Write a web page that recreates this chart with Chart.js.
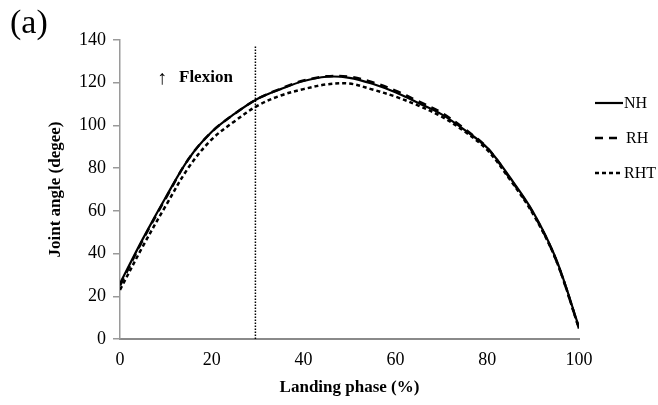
<!DOCTYPE html>
<html>
<head>
    <meta charset="UTF-8">
    <title>Joint angle</title>
    <style type="text/css">
        body {
            background-color: white;
            margin: 0;
            padding: 0;
        }

        #chartContainer {
            width: 658px;
            height: 405px;
        }
    </style>

    <script src="https://cdn.jsdelivr.net/npm/chart.js@4.4.0/dist/chart.umd.min.js"></script>
</head>
<body>
    <div id="chartContainer">
        <canvas id="angleChart" width="658" height="405"></canvas>
    </div>

    <script type="text/javascript">
    // landing phase (%) and knee joint angle (deg) per condition
    var phase = [0, 5, 10, 15, 20, 25, 30, 35, 40, 45, 50, 55, 60, 65, 70, 75, 80, 85, 90, 95, 100];
    var nh  = [26, 47, 66.5, 84.5, 97, 105.5, 112.5, 117, 120.8, 122.8, 122.3, 119.5, 115.5, 110.5, 105.3, 98, 89.5, 75.5, 59.5, 37.5, 5.5];
    var rh  = [25, 46.5, 66, 84.5, 97, 105.5, 112.5, 117.2, 121, 123, 122.8, 120.2, 116.3, 111.3, 106, 98.5, 89.5, 75, 59, 37, 5];
    var rht = [23, 43.5, 62.5, 80.5, 93.5, 102, 109.3, 114, 117, 119.2, 119.6, 116.8, 113.5, 109.3, 104.2, 97.3, 88.5, 74.5, 58.5, 37, 5];

    var seriesNames = ['NH', 'RH', 'RHT'];
    var xTicks = [0, 20, 40, 60, 80, 100];
    var yTicks = [0, 20, 40, 60, 80, 100, 120, 140];

    // vertical marker line
    var markerPhase = 29.5;
    var markerTop = 137;

    var serif = "'Liberation Serif', 'Times New Roman', serif";

    function toPoints(values) {
        var pts = [];
        for (var i = 0; i < phase.length; i++) {
            pts.push({ x: phase[i], y: values[i] });
        }
        return pts;
    }

    // legend and text annotations drawn on top
    var annotations = {
        id: 'annotations',
        afterDraw: function (chart) {
            var ctx = chart.ctx;
            ctx.save();
            ctx.fillStyle = '#000';

            ctx.font = '34px ' + serif;
            ctx.textBaseline = 'alphabetic';
            ctx.textAlign = 'left';
            ctx.fillText('(a)', 10, 33);

            ctx.textBaseline = 'middle';
            ctx.font = '20px ' + serif;
            ctx.fillText('\u2191', 157, 79);
            ctx.font = 'bold 17px ' + serif;
            ctx.fillText('Flexion', 179, 78);

            // legend
            var rows = [103, 138, 173];
            ctx.font = '16px ' + serif;
            for (var i = 0; i < 3; i++) {
                var ds = chart.data.datasets[i];
                ctx.beginPath();
                ctx.setLineDash(ds.borderDash || []);
                ctx.lineWidth = ds.borderWidth;
                ctx.strokeStyle = '#000';
                ctx.moveTo(595, rows[i]);
                ctx.lineTo(623, rows[i]);
                ctx.stroke();
                ctx.setLineDash([]);
                ctx.fillText(seriesNames[i], i === 1 ? 626 : 624, rows[i] + 1);
            }
            ctx.restore();
        }
    };

    var ctx = document.getElementById('angleChart').getContext('2d');
    var angleChart = new Chart(ctx, {
        type: 'line',
        data: {
            datasets: [{
                label: seriesNames[0],
                data: toPoints(nh),
                borderColor: '#000',
                borderWidth: 2.2,
                pointRadius: 0,
                tension: 0.35,
                fill: false
            }, {
                label: seriesNames[1],
                data: toPoints(rh),
                borderColor: '#000',
                borderWidth: 2.5,
                borderDash: [8, 6],
                pointRadius: 0,
                tension: 0.35,
                fill: false
            }, {
                label: seriesNames[2],
                data: toPoints(rht),
                borderColor: '#000',
                borderWidth: 2.5,
                borderDash: [4, 3],
                pointRadius: 0,
                tension: 0.35,
                fill: false
            }, {
                label: 'marker',
                data: [{ x: markerPhase, y: 0 }, { x: markerPhase, y: markerTop }],
                borderColor: '#000',
                borderWidth: 1.5,
                borderDash: [1.5, 1.5],
                pointRadius: 0,
                fill: false
            }]
        },
        options: {
            responsive: false,
            animation: false,
            events: [],
            layout: {
                padding: { left: 0, top: 40, right: 79, bottom: 0 }
            },
            scales: {
                x: {
                    type: 'linear',
                    min: 0,
                    max: 100,
                    afterBuildTicks: function (scale) {
                        scale.ticks = xTicks.map(function (v) { return { value: v }; });
                    },
                    afterFit: function (scale) { scale.height = 66; },
                    grid: { display: false, drawTicks: false },
                    border: { display: true, color: '#8a8a8a', width: 2 },
                    ticks: {
                        padding: 10,
                        color: '#000',
                        font: { family: serif, size: 18 },
                        maxRotation: 0
                    },
                    title: {
                        display: true,
                        text: 'Landing phase (%)',
                        color: '#000',
                        font: { family: serif, size: 17, weight: 'bold' },
                        padding: { top: 0, bottom: 7 }
                    }
                },
                y: {
                    min: 0,
                    max: 140,
                    afterBuildTicks: function (scale) {
                        scale.ticks = yTicks.map(function (v) { return { value: v }; });
                    },
                    afterFit: function (scale) { scale.width = 120; },
                    grid: {
                        display: true,
                        drawOnChartArea: false,
                        drawTicks: true,
                        tickLength: 7,
                        color: '#9a9a9a',
                        lineWidth: 1.5
                    },
                    border: { display: true, color: '#9a9a9a', width: 1.5 },
                    ticks: {
                        padding: 7,
                        color: '#000',
                        font: { family: serif, size: 18 }
                    },
                    title: {
                        display: true,
                        text: 'Joint angle (degee)',
                        color: '#000',
                        font: { family: serif, size: 17, weight: 'bold' },
                        padding: { top: 45, bottom: 0 }
                    }
                }
            },
            plugins: {
                legend: { display: false },
                tooltip: { enabled: false }
            }
        },
        plugins: [annotations]
    });
    </script>
</body>
</html>
